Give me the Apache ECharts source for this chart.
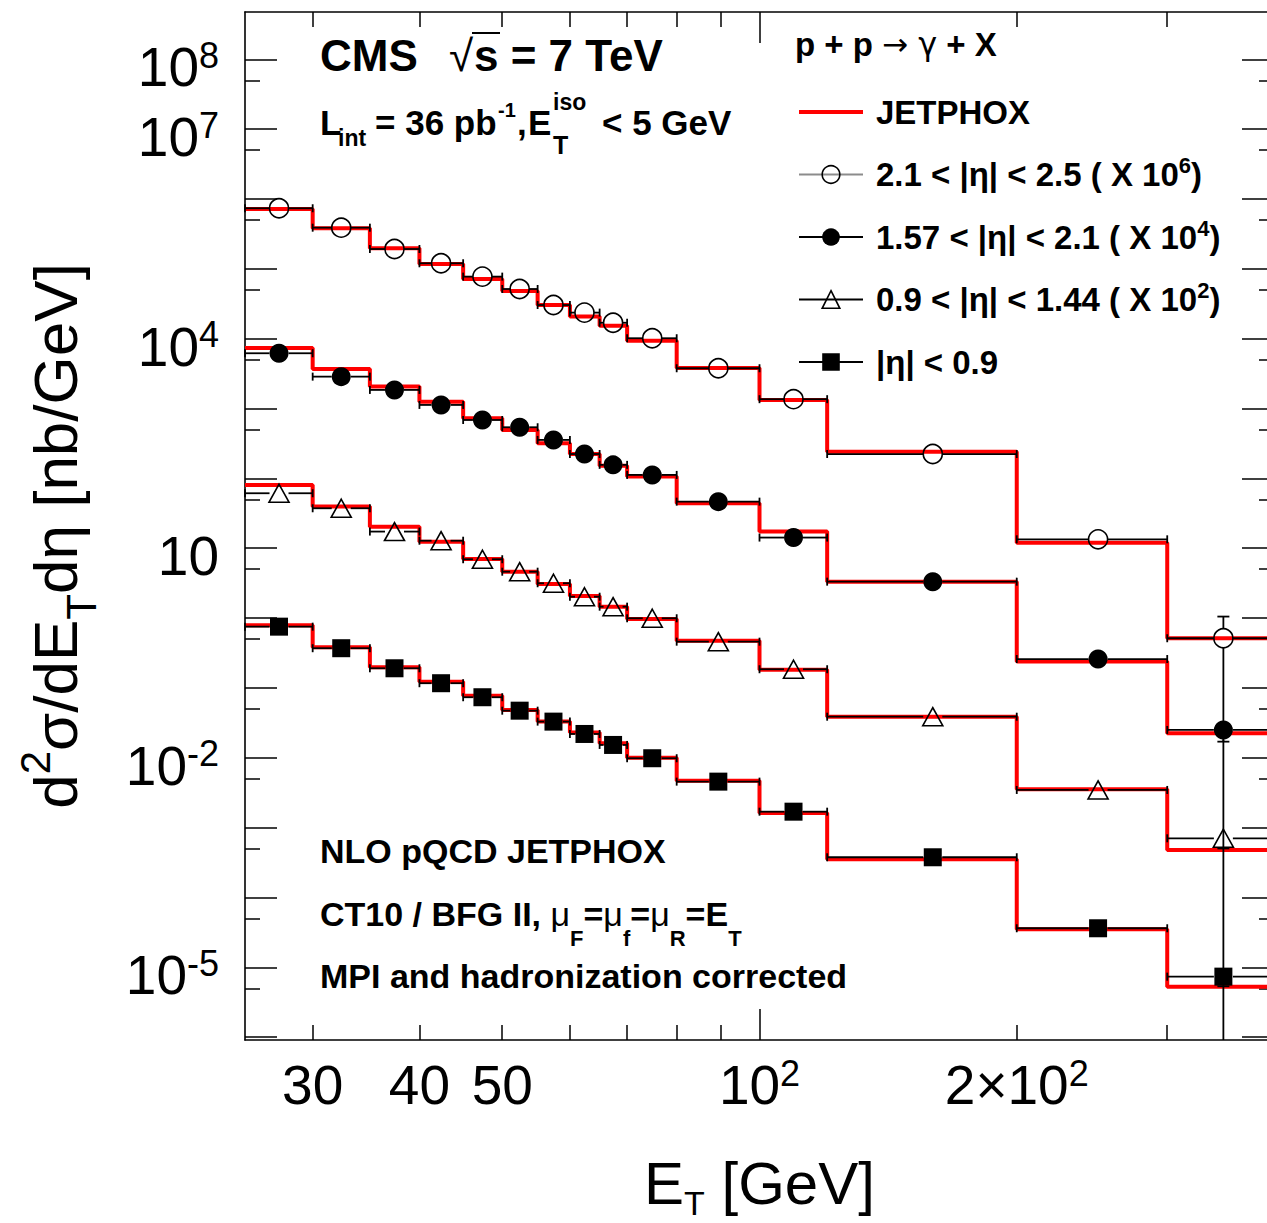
<!DOCTYPE html>
<html>
<head>
<meta charset="utf-8">
<title>CMS isolated prompt photon cross section</title>
<script src="https://cdn.jsdelivr.net/npm/echarts@6.0.0/dist/echarts.min.js"></script>
<style>
html,body{margin:0;padding:0;background:#ffffff;}
#chart{width:1267px;height:1223px;}
</style>
</head>
<body>
<div id="chart"></div>
<script>
// ---------------- data ----------------
const binEdges   = [25, 30, 35, 40, 45, 50, 55, 60, 65, 70, 80, 100, 120, 200, 300, 400];
const binCenters = [27.4, 32.4, 37.4, 42.4, 47.4, 52.4, 57.4, 62.4, 67.4, 74.9, 89.5, 109.6, 159.5, 249, 349];

const seriesNames  = ['2.1 < |η| < 2.5', '1.57 < |η| < 2.1', '0.9 < |η| < 1.44', '|η| < 0.9'];
const scaleFactors = [1e6, 1e4, 1e2, 1];

// measured d2sigma/dEt deta [nb/GeV] (unscaled)
const data_2p1_2p5  = [0.736, 0.388, 0.192, 0.120, 0.0773, 0.0514, 0.0303, 0.0236, 0.0169, 0.01014, 3.77e-3, 1.36e-3, 2.23e-4, 1.34e-5, 5.14e-7];
const data_1p57_2p1 = [0.618, 0.286, 0.1845, 0.1125, 0.0685, 0.0539, 0.0355, 0.0223, 0.0156, 0.0112, 4.64e-3, 1.42e-3, 3.32e-4, 2.59e-5, 2.50e-6];
const data_0p9_1p44 = [0.612, 0.373, 0.173, 0.128, 0.0695, 0.0461, 0.0315, 0.0202, 0.01455, 9.93e-3, 4.59e-3, 1.85e-3, 3.87e-4, 3.46e-5, 7.03e-6];
const data_0_0p9    = [0.753, 0.370, 0.191, 0.1167, 0.0735, 0.0472, 0.0329, 0.0219, 0.01525, 9.84e-3, 4.55e-3, 1.69e-3, 3.76e-4, 3.62e-5, 7.35e-6];

// vertical errors, only visible in the last bin
const err_2p1_2p5  = [0, 0, 0, 0, 0, 0, 0, 0, 0, 0, 0, 0, 0, 0, 5.36e-7];
const err_1p57_2p1 = [0, 0, 0, 0, 0, 0, 0, 0, 0, 0, 0, 0, 0, 0, 0.80e-6];
const err_0p9_1p44 = [0, 0, 0, 0, 0, 0, 0, 0, 0, 0, 0, 0, 0, 0, 2.0e-6];
const err_0_0p9    = [0, 0, 0, 0, 0, 0, 0, 0, 0, 0, 0, 0, 0, 0, 2.0e-6];

// JETPHOX NLO prediction per bin (unscaled)
const jetphox_2p1_2p5  = [0.720, 0.380, 0.197, 0.117, 0.0716, 0.0482, 0.0303, 0.0207, 0.0153, 9.35e-3, 3.80e-3, 1.32e-3, 2.41e-4, 1.20e-5, 5.14e-7];
const jetphox_1p57_2p1 = [0.736, 0.368, 0.206, 0.125, 0.0725, 0.0493, 0.0318, 0.0223, 0.0152, 0.0106, 4.40e-3, 1.73e-3, 3.32e-4, 2.38e-5, 2.24e-6];
const jetphox_0p9_1p44 = [0.804, 0.394, 0.203, 0.124, 0.0701, 0.0461, 0.0308, 0.0207, 0.01455, 9.70e-3, 4.74e-3, 1.82e-3, 3.87e-4, 3.54e-5, 4.79e-6];
const jetphox_0_0p9    = [0.789, 0.382, 0.197, 0.1228, 0.0775, 0.0483, 0.0329, 0.0229, 0.0161, 0.01002, 4.70e-3, 1.62e-3, 3.52e-4, 3.51e-5, 5.28e-6];

// axis ticks / labels
const xLabelValues = [30, 40, 50, 100, 200];
const xMinorTicks  = [30, 40, 50, 60, 70, 80, 90, 200, 300];
const xMajorTicks  = [100];
const yLabelValues = [1e8, 1e7, 1e4, 10, 1e-2, 1e-5];
const yMajorTicks  = [1e-6, 1e-5, 1e-4, 1e-3, 1e-2, 1e-1, 1, 10, 1e2, 1e3, 1e4, 1e5, 1e6, 1e7, 1e8];
const yMinorTicks  = [5e-6, 5e-5, 5e-4, 5e-3, 5e-2, 5e-1, 5, 50, 5e2, 5e3, 5e4, 5e5, 5e6, 5e7];

const legendLabels = [
  '2.1 < |η| < 2.5 ( X 10{s|6})',
  '1.57 < |η| < 2.1 ( X 10{s|4})',
  '0.9 < |η| < 1.44 ( X 10{s|2})',
  '|η| < 0.9'
];

// ---------------- chart ----------------
const FONT = 'Liberation Sans, Arial, Helvetica, sans-serif';
const SYMFONT = 'DejaVu Sans, Liberation Sans, sans-serif';
const xMin = 25, xMax = 400, yMin = 9.1e-7, yMax = 4.75e8;

const etaSets = [
  {name: seriesNames[0], data: data_2p1_2p5,  err: err_2p1_2p5,  theory: jetphox_2p1_2p5,  scale: scaleFactors[0], symbol: 'circle',   size: 19, open: true,  legendLine: '#8c8c8c'},
  {name: seriesNames[1], data: data_1p57_2p1, err: err_1p57_2p1, theory: jetphox_1p57_2p1, scale: scaleFactors[1], symbol: 'circle',   size: 19, open: false, legendLine: '#000000'},
  {name: seriesNames[2], data: data_0p9_1p44, err: err_0p9_1p44, theory: jetphox_0p9_1p44, scale: scaleFactors[2], symbol: 'triangle', size: [20, 18], open: true,  legendLine: '#000000'},
  {name: seriesNames[3], data: data_0_0p9,    err: err_0_0p9,    theory: jetphox_0_0p9,    scale: scaleFactors[3], symbol: 'rect',     size: 18, open: false, legendLine: '#000000'}
];

const scaled = (arr, s) => arr.map(v => v * s);

function renderBars(params, api) {
  const xc = api.value(0), y = api.value(1), xlo = api.value(2), xhi = api.value(3), err = api.value(4);
  const pc = api.coord([xc, y]);
  const pl = api.coord([xlo, y]);
  const ph = api.coord([xhi, y]);
  const r = 9.5, cap = 4, vcap = 6;
  const st = {stroke: '#000', lineWidth: 1.8};
  const ch = [];
  const L = (x1, y1, x2, y2) => ch.push({type: 'line', shape: {x1, y1, x2, y2}, style: st});
  L(pl[0], pc[1], pc[0] - r, pc[1]);
  L(pc[0] + r, pc[1], ph[0], pc[1]);
  L(pl[0], pc[1] - cap, pl[0], pc[1] + cap);
  L(ph[0], pc[1] - cap, ph[0], pc[1] + cap);
  if (err > 0) {
    const up = api.coord([xc, Math.min(y + err, yMax)]);
    if (up[1] < pc[1] - r) {
      L(pc[0], pc[1] - r, pc[0], up[1]);
      L(pc[0] - vcap, up[1], pc[0] + vcap, up[1]);
    }
    if (y - err > yMin) {
      const lo = api.coord([xc, y - err]);
      if (lo[1] > pc[1] + r) {
        L(pc[0], pc[1] + r, pc[0], lo[1]);
        L(pc[0] - vcap, lo[1], pc[0] + vcap, lo[1]);
      }
    } else {
      const bot = api.coord([xc, yMin]);
      L(pc[0], pc[1] + r, pc[0], bot[1]);
    }
  }
  return {type: 'group', children: ch};
}

const series = [];
etaSets.forEach(e => {
  const th = scaled(e.theory, e.scale);
  const stepData = binEdges.map((x, i) => [x, th[Math.min(i, th.length - 1)]]);
  series.push({
    type: 'line', name: 'JETPHOX', step: 'end', data: stepData,
    symbol: 'none', showSymbol: false,
    lineStyle: {color: '#ff0000', width: 4}, itemStyle: {color: '#ff0000'},
    z: 2, silent: true, emphasis: {disabled: true}
  });
});
etaSets.forEach(e => {
  const d = scaled(e.data, e.scale), er = scaled(e.err, e.scale);
  series.push({
    type: 'custom', name: e.name + ' bins', renderItem: renderBars,
    data: binCenters.map((x, i) => [x, d[i], binEdges[i], binEdges[i + 1], er[i]]),
    encode: {x: 0, y: 1}, z: 3, silent: true
  });
  series.push({
    type: 'line', name: e.name,
    data: binCenters.map((x, i) => [x, d[i]]),
    symbol: e.symbol, symbolSize: e.size, showSymbol: true, showAllSymbol: true,
    lineStyle: {opacity: 0, width: 0},
    itemStyle: e.open ? {color: 'rgba(0,0,0,0)', borderColor: '#000', borderWidth: 1.6}
                      : {color: '#000', borderColor: '#000', borderWidth: 0},
    z: 4, silent: true, emphasis: {disabled: true}
  });
});

const tickLine = {color: '#000', width: 1.5};
const frameLine = {color: '#000', width: 1.6};
const axisRich = {
  b: {fontFamily: FONT, fontSize: 55, lineHeight: 60, color: '#000'},
  p: {fontFamily: FONT, fontSize: 36, lineHeight: 18, verticalAlign: 'top', color: '#000'}
};

function baseAxis(type, extra) {
  const o = {
    type: 'log', logBase: 10, gridIndex: 0,
    min: type === 'x' ? xMin : yMin, max: type === 'x' ? xMax : yMax,
    splitLine: {show: false}, minorTick: {show: false}, minorSplitLine: {show: false},
    axisLabel: {show: false}, axisLine: {show: false, onZero: false},
    axisTick: {show: false}, axisPointer: {show: false}, nameMoveOverlap: false
  };
  return Object.assign(o, extra);
}

const fmtX = v => {
  if (v === 100) return '{b|10}{p|2}';
  if (v === 200) return '{b|2×10}{p|2}';
  return '{b|' + v + '}';
};
const fmtY = v => {
  const e = Math.round(Math.log10(v));
  if (e === 1) return '{b|10}';
  return '{b|10}{p|' + e + '}';
};

const xAxes = [
  baseAxis('x', {
    position: 'bottom',
    axisLine: {show: true, onZero: false, lineStyle: frameLine},
    axisTick: {show: true, inside: true, length: 15, customValues: xMinorTicks, lineStyle: tickLine},
    axisLabel: {show: true, customValues: xLabelValues, margin: 15, formatter: fmtX, rich: axisRich, color: '#000'},
    name: '{m|E}{s|T}{m| [GeV]}', nameLocation: 'middle', nameGap: 113,
    nameTextStyle: {color: '#000', fontFamily: FONT, rich: {
      m: {fontFamily: FONT, fontSize: 60, lineHeight: 60, verticalAlign: 'top', color: '#000'},
      s: {fontFamily: FONT, fontSize: 34, lineHeight: 30, verticalAlign: 'top', padding: [33, 0, 0, 0], color: '#000'}
    }}
  }),
  baseAxis('x', {position: 'bottom', axisTick: {show: true, inside: true, length: 31, customValues: xMajorTicks, lineStyle: tickLine}}),
  baseAxis('x', {position: 'top', axisLine: {show: true, onZero: false, lineStyle: frameLine},
    axisTick: {show: true, inside: true, length: 15, customValues: xMinorTicks, lineStyle: tickLine}}),
  baseAxis('x', {position: 'top', axisTick: {show: true, inside: true, length: 31, customValues: xMajorTicks, lineStyle: tickLine}})
];

const yAxes = [
  baseAxis('y', {
    position: 'left',
    axisLine: {show: true, onZero: false, lineStyle: frameLine},
    axisTick: {show: true, inside: true, length: 32, customValues: yMajorTicks, lineStyle: tickLine},
    axisLabel: {show: true, customValues: yLabelValues, margin: 26, formatter: fmtY, rich: axisRich, color: '#000', padding: [16, 0, 0, 0]},
    name: '{m|d}{p|2}{m|σ/dE}{s|T}{m|dη [nb/GeV]}', nameLocation: 'middle', nameGap: 135, nameRotate: 90,
    nameTextStyle: {color: '#000', fontFamily: FONT, padding: [0, 20, 0, 0], rich: {
      m: {fontFamily: FONT, fontSize: 62, lineHeight: 110, color: '#000'},
      p: {fontFamily: FONT, fontSize: 42, lineHeight: 42, verticalAlign: 'top', padding: [14, 0, 0, 0], color: '#000'},
      s: {fontFamily: FONT, fontSize: 42, lineHeight: 42, verticalAlign: 'bottom', padding: [0, 0, 8, 0], color: '#000'}
    }}
  }),
  baseAxis('y', {position: 'left', axisTick: {show: true, inside: true, length: 15, customValues: yMinorTicks, lineStyle: tickLine}}),
  baseAxis('y', {position: 'right', axisLine: {show: true, onZero: false, lineStyle: frameLine},
    axisTick: {show: true, inside: true, length: 32, customValues: yMajorTicks, lineStyle: tickLine}}),
  baseAxis('y', {position: 'right', axisTick: {show: true, inside: true, length: 15, customValues: yMinorTicks, lineStyle: tickLine}})
];

function txt(x, y, text, size, extra) {
  return {type: 'text', x: x, y: y, silent: true, z: 10,
    style: Object.assign({text: text, fontFamily: FONT, fontSize: size, fontWeight: 'bold', fill: '#000',
      align: 'left', verticalAlign: 'middle'}, extra || {})};
}

const ct10Rich = {
  m: {fontFamily: FONT, fontSize: 34, fontWeight: 'bold', lineHeight: 70, fill: '#000'},
  u: {fontFamily: FONT, fontSize: 34, fontWeight: 'normal', lineHeight: 70, fill: '#000'},
  s: {fontFamily: FONT, fontSize: 22, fontWeight: 'bold', lineHeight: 22, verticalAlign: 'bottom', fill: '#000'}
};
const ppRich = {
  b: {fontFamily: FONT, fontSize: 33, fontWeight: 'bold', lineHeight: 40, fill: '#000'},
  a: {fontFamily: SYMFONT, fontSize: 31, fontWeight: 'normal', lineHeight: 40, fill: '#000'},
  g: {fontFamily: SYMFONT, fontSize: 32, fontWeight: 'normal', lineHeight: 40, fill: '#000'}
};

const graphics = [
  txt(320, 55, 'CMS', 44),
  txt(449, 55, '√', 44, {fontWeight: 'normal'}),
  {type: 'line', silent: true, z: 10, shape: {x1: 472, y1: 33, x2: 500, y2: 33}, style: {stroke: '#000', lineWidth: 2}},
  txt(474, 55, 's = 7 TeV', 44),
  txt(320, 122, 'L', 35),
  txt(338, 138, 'int', 23),
  txt(375, 122, '= 36 pb', 35),
  txt(498, 110, '-1', 20),
  txt(517, 122, ',', 35),
  txt(528, 122, 'E', 35),
  txt(553, 102, 'iso', 23),
  txt(553, 145, 'T', 25),
  txt(602, 122, '< 5 GeV', 35),
  txt(795, 44, '{b|p + p }{a|→}{g| γ}{b| + X}', 33, {rich: ppRich}),
  txt(320, 851, 'NLO pQCD JETPHOX', 34),
  txt(320, 914, '{m|CT10 / BFG II, }{u|μ}{s|F}{m|=}{u|μ}{s|f}{m|=}{u|μ}{s|R}{m|=E}{s|T}', 34, {rich: ct10Rich}),
  txt(320, 976, 'MPI and hadronization corrected', 34)
];

const legendData = [{name: 'JETPHOX', icon: 'path://M0,0H64V4H0Z', itemStyle: {color: '#ff0000', borderWidth: 0}}];
etaSets.forEach(e => {
  legendData.push({
    name: e.name,
    lineStyle: {color: e.legendLine, width: 2, opacity: 1, type: 'solid'},
    itemStyle: e.open ? {color: 'rgba(0,0,0,0)', borderColor: '#000', borderWidth: 1.6, opacity: 1}
                      : {color: '#000', borderColor: '#000', borderWidth: 0, opacity: 1}
  });
});
const legendMap = {JETPHOX: 'JETPHOX'};
seriesNames.forEach((n, i) => { legendMap[n] = legendLabels[i]; });

const chart = echarts.init(document.getElementById('chart'), null, {renderer: 'svg', width: 1267, height: 1223});
chart.setOption({
  animation: false,
  backgroundColor: '#ffffff',
  textStyle: {fontFamily: FONT},
  grid: {left: 245, top: 12, width: 1029, height: 1028, show: false, containLabel: false, outerBoundsMode: 'none'},
  xAxis: xAxes,
  yAxis: yAxes,
  legend: {
    orient: 'vertical', left: 798, top: 92, padding: 0,
    itemWidth: 64, itemHeight: 22, itemGap: 22.5, selectedMode: false,
    data: legendData,
    formatter: n => legendMap[n] || n,
    textStyle: {fontFamily: FONT, fontSize: 33, fontWeight: 'bold', color: '#000', lineHeight: 40, padding: [0, 0, 0, 8],
      rich: {s: {fontFamily: FONT, fontSize: 22, fontWeight: 'bold', lineHeight: 18, verticalAlign: 'top', color: '#000'}}}
  },
  graphic: graphics,
  series: series
});
</script>
</body>
</html>
